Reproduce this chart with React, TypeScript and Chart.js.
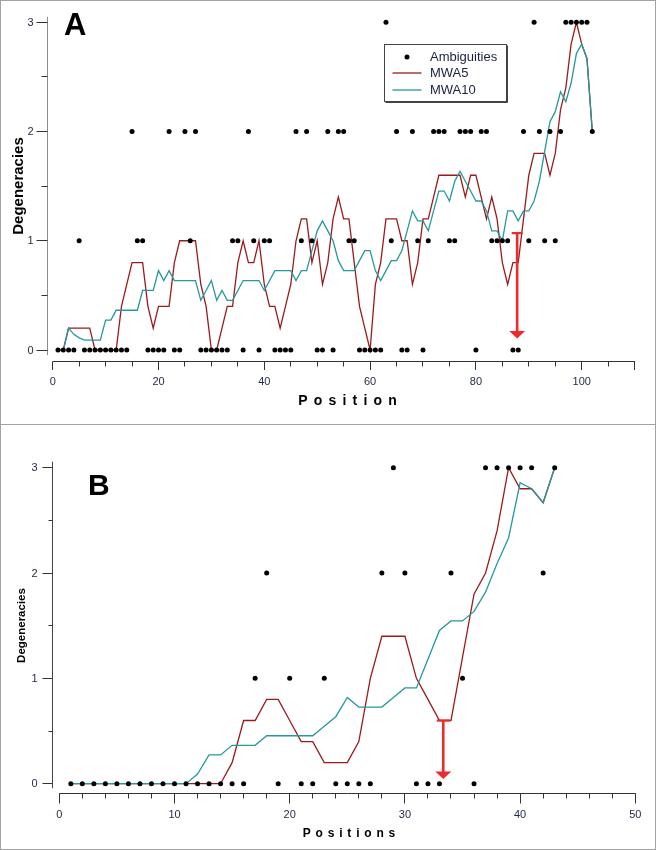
import React, { useEffect, useRef } from "react";
import { Chart, registerables } from "chart.js";

Chart.register(...registerables);

// ---------- DATA ----------
const positionsA = Array.from({ length: 102 }, (_, i) => i + 1);
const ambiguitiesA = [
  0, 0, 0, 0, 1, 0, 0, 0, 0, 0,
  0, 0, 0, 0, 2, 1, 1, 0, 0, 0,
  0, 2, 0, 0, 2, 1, 2, 0, 0, 0,
  0, 0, 0, 1, 1, 0, 2, 1, 0, 1,
  1, 0, 0, 0, 0, 2, 1, 2, 1, 0,
  0, 2, 0, 2, 2, 1, 1, 0, 0, 0,
  0, 0, 3, 1, 2, 0, 0, 2, 1, 0,
  1, 2, 2, 2, 1, 1, 2, 2, 2, 0,
  2, 2, 1, 1, 1, 1, 0, 0, 2, 1,
  3, 2, 1, 2, 1, 2, 3, 3, 3, 3,
  3, 2,
];
const mwa5A = [
  0, 0, 0.2, 0.2, 0.2, 0.2, 0.2, 0, 0, 0,
  0, 0, 0.4, 0.6, 0.8, 0.8, 0.8, 0.4, 0.2, 0.4,
  0.4, 0.4, 0.8, 1, 1, 1, 1, 0.6, 0.4, 0,
  0, 0.2, 0.4, 0.4, 0.8, 1, 0.8, 0.8, 1, 0.6,
  0.4, 0.4, 0.2, 0.4, 0.6, 1, 1.2, 1.2, 0.8, 1,
  0.6, 0.8, 1.2, 1.4, 1.2, 1.2, 0.8, 0.4, 0.2, 0,
  0.6, 0.8, 1.2, 1.2, 1.2, 1, 1, 0.6, 0.8, 1.2,
  1.2, 1.4, 1.6, 1.6, 1.6, 1.6, 1.6, 1.4, 1.6, 1.6,
  1.4, 1.2, 1.4, 1.2, 0.8, 0.6, 0.8, 0.8, 1.2, 1.6,
  1.8, 1.8, 1.8, 1.6, 1.8, 2.2, 2.4, 2.8, 3, 2.8,
  2.667, 2,
];
const mwa10A = [
  0, 0, 0.2, 0.143, 0.111, 0.091, 0.091, 0.091, 0.091, 0.273,
  0.273, 0.364, 0.364, 0.364, 0.364, 0.364, 0.545, 0.545, 0.545, 0.727,
  0.636, 0.727, 0.636, 0.636, 0.636, 0.636, 0.636, 0.455, 0.545, 0.636,
  0.455, 0.545, 0.455, 0.455, 0.545, 0.636, 0.636, 0.636, 0.636, 0.545,
  0.636, 0.727, 0.727, 0.727, 0.727, 0.636, 0.727, 0.727, 0.909, 1.091,
  1.182, 1.091, 1.0, 0.818, 0.727, 0.727, 0.727, 0.818, 0.909, 0.909,
  0.727, 0.636, 0.727, 0.818, 0.818, 0.909, 1.091, 1.273, 1.182, 1.182,
  1.091, 1.273, 1.455, 1.455, 1.364, 1.545, 1.636, 1.545, 1.455, 1.364,
  1.364, 1.273, 1.091, 1.091, 1.0, 1.273, 1.273, 1.182, 1.273, 1.273,
  1.364, 1.545, 1.818, 2.091, 2.182, 2.364, 2.273, 2.444, 2.714, 2.8,
  2.667, 2,
];

const positionsB = Array.from({ length: 43 }, (_, i) => i + 1);
const ambiguitiesB = [
  0, 0, 0, 0, 0, 0, 0, 0, 0, 0,
  0, 0, 0, 0, 0, 0, 1, 2, 0, 1,
  0, 0, 1, 0, 0, 0, 0, 2, 3, 2,
  0, 0, 0, 2, 1, 0, 3, 3, 3, 3,
  3, 2, 3,
];
const mwa5B = [
  0, 0, 0, 0, 0, 0, 0, 0, 0, 0,
  0, 0, 0, 0, 0.2, 0.6, 0.6, 0.8, 0.8, 0.6,
  0.4, 0.4, 0.2, 0.2, 0.2, 0.4, 1, 1.4, 1.4, 1.4,
  1, 0.8, 0.6, 0.6, 1.2, 1.8, 2, 2.4, 3, 2.8,
  2.8, 2.667, 3,
];
const mwa10B = [
  0, 0, 0, 0, 0, 0, 0, 0, 0, 0,
  0, 0.091, 0.273, 0.273, 0.364, 0.364, 0.364, 0.455, 0.455, 0.455,
  0.455, 0.455, 0.545, 0.636, 0.818, 0.727, 0.727, 0.727, 0.818, 0.909,
  0.909, 1.182, 1.455, 1.545, 1.545, 1.636, 1.818, 2.091, 2.333, 2.857,
  2.8, 2.667, 3,
];

const yTickLabels = [0, 1, 2, 3];
const xTickLabelsA = [0, 20, 40, 60, 80, 100];
const xTickLabelsB = [0, 10, 20, 30, 40, 50];
const arrowA = { x: 87.8, from: 1.07, to: 0.105 };
const arrowB = { x: 33.33, from: 0.6, to: 0.045 };
const legendLabels = ["Ambiguities", "MWA5", "MWA10"];

// ---------- STYLE ----------
const RED = "#9b1b1d";
const TEAL = "#25999b";
const ARROW = "#ee2a2c";
const FRAME = "#a3a3a3";
const TICK_TEXT = "#1f2742";
const FONT = "'Liberation Sans', Arial, Helvetica, sans-serif";

type PanelCfg = {
  width: number;
  height: number;
  padding: { left: number; right: number; top: number; bottom: number };
  xMax: number;
  xMinorStep: number;
  xTicks: number[];
  positions: number[];
  amb: number[];
  mwa5: number[];
  mwa10: number[];
  arrow: { x: number; from: number; to: number };
  yAxisOffset: number;
  xAxisOffset: number;
  yAxisTopExtra: number;
  yAxisBottomExtra: number;
  yMajorLen: number;
  yMinorLen: number;
  xMajorLen: number;
  xMinorLen: number;
  yAxisColor: string;
  xAxisColor: string;
  yLabelRight: number;
  xLabelY: number;
  tickFont: number;
  yTitle: { x: number; y: number; size: number };
  xTitle: { text: string; cx: number; baseline: number; size: number; gap: number };
  letter: { text: string; x: number; baseline: number; size: number };
  legend: boolean;
  frameBottom: number;
  capHalf: number;
  headHalf: number;
  headLen: number;
};

function spacedText(ctx: CanvasRenderingContext2D, text: string, cx: number, baseline: number, gap: number) {
  const chars = Array.from(text);
  const widths = chars.map((c) => ctx.measureText(c).width);
  const total = widths.reduce((a, b) => a + b, 0) + gap * (chars.length - 1);
  let x = cx - total / 2;
  ctx.textAlign = "left";
  chars.forEach((c, i) => {
    ctx.fillText(c, x, baseline);
    x += widths[i] + gap;
  });
}

function crisp(v: number) {
  return Math.round(v - 0.5) + 0.5;
}

function makePlugin(cfg: PanelCfg) {
  return {
    id: "igorAxes",
    afterDraw(chart: any) {
      const ctx: CanvasRenderingContext2D = chart.ctx;
      const xs = chart.scales.x;
      const ys = chart.scales.y;
      const area = chart.chartArea;
      ctx.save();

      // frame
      ctx.fillStyle = FRAME;
      ctx.fillRect(0, 0, cfg.width - 1, 1);
      ctx.fillRect(0, 0, 1, cfg.frameBottom + 1);
      ctx.fillRect(cfg.width - 2, 0, 1, cfg.frameBottom + 1);
      ctx.fillRect(0, cfg.frameBottom, cfg.width - 1, 1);

      // y axis
      const yAxisX = crisp(xs.getPixelForValue(0) - cfg.yAxisOffset);
      ctx.lineWidth = 1;
      ctx.strokeStyle = cfg.yAxisColor;
      ctx.beginPath();
      ctx.moveTo(yAxisX, area.top - cfg.yAxisTopExtra);
      ctx.lineTo(yAxisX, area.bottom + cfg.yAxisBottomExtra);
      ctx.stroke();
      ctx.strokeStyle = "#333";
      for (let v = 0; v <= 3.0001; v += 0.5) {
        const py = crisp(ys.getPixelForValue(v));
        const major = Math.abs(v - Math.round(v)) < 1e-6;
        const len = major ? cfg.yMajorLen : cfg.yMinorLen;
        ctx.beginPath();
        ctx.moveTo(yAxisX - len, py);
        ctx.lineTo(yAxisX, py);
        ctx.stroke();
      }
      ctx.fillStyle = TICK_TEXT;
      ctx.font = `${cfg.tickFont}px ${FONT}`;
      ctx.textAlign = "right";
      ctx.textBaseline = "middle";
      yTickLabels.forEach((v) => {
        ctx.fillText(String(v), cfg.yLabelRight, ys.getPixelForValue(v) + 0.5);
      });

      // x axis
      const xAxisY = crisp(ys.getPixelForValue(0) + cfg.xAxisOffset);
      ctx.strokeStyle = cfg.xAxisColor;
      ctx.beginPath();
      ctx.moveTo(xs.getPixelForValue(0), xAxisY);
      ctx.lineTo(xs.getPixelForValue(cfg.xMax) + 0.5, xAxisY);
      ctx.stroke();
      ctx.strokeStyle = "#333";
      for (let v = 0; v <= cfg.xMax + 1e-6; v += cfg.xMinorStep) {
        const px = crisp(xs.getPixelForValue(v));
        const major = cfg.xTicks.includes(v) || v === cfg.xMax;
        const len = major ? cfg.xMajorLen : cfg.xMinorLen;
        ctx.beginPath();
        ctx.moveTo(px, xAxisY);
        ctx.lineTo(px, xAxisY + len);
        ctx.stroke();
      }
      ctx.textAlign = "center";
      cfg.xTicks.forEach((v) => {
        ctx.fillText(String(v), xs.getPixelForValue(v), cfg.xLabelY);
      });

      // axis titles
      ctx.fillStyle = "#000";
      ctx.textBaseline = "alphabetic";
      ctx.save();
      ctx.translate(cfg.yTitle.x, cfg.yTitle.y);
      ctx.rotate(-Math.PI / 2);
      ctx.font = `bold ${cfg.yTitle.size}px ${FONT}`;
      ctx.textAlign = "center";
      ctx.fillText("Degeneracies", 0, 0);
      ctx.restore();

      ctx.font = `bold ${cfg.xTitle.size}px ${FONT}`;
      spacedText(ctx, cfg.xTitle.text, cfg.xTitle.cx, cfg.xTitle.baseline, cfg.xTitle.gap);

      // panel letter
      ctx.font = `bold ${cfg.letter.size}px ${FONT}`;
      ctx.textAlign = "left";
      ctx.fillText(cfg.letter.text, cfg.letter.x, cfg.letter.baseline);

      // legend
      if (cfg.legend) {
        const lx = 384.5, ly = 44.5, lw = 122, lh = 57;
        ctx.fillStyle = "#fff";
        ctx.fillRect(lx, ly, lw, lh);
        ctx.strokeStyle = "#444";
        ctx.lineWidth = 1;
        ctx.strokeRect(lx, ly, lw, lh);
        ctx.beginPath();
        ctx.moveTo(lx + lw + 1, ly + 1);
        ctx.lineTo(lx + lw + 1, ly + lh + 1);
        ctx.lineTo(lx + 1, ly + lh + 1);
        ctx.stroke();
        // entries
        ctx.fillStyle = "#000";
        ctx.beginPath();
        ctx.arc(407, 57, 2.5, 0, Math.PI * 2);
        ctx.fill();
        ctx.lineWidth = 1.3;
        ctx.strokeStyle = RED;
        ctx.beginPath();
        ctx.moveTo(392.5, 73);
        ctx.lineTo(421.5, 73);
        ctx.stroke();
        ctx.strokeStyle = TEAL;
        ctx.beginPath();
        ctx.moveTo(392.5, 90);
        ctx.lineTo(421.5, 90);
        ctx.stroke();
        ctx.fillStyle = "#1a2140";
        ctx.font = `13px ${FONT}`;
        ctx.textAlign = "left";
        ctx.textBaseline = "middle";
        ctx.fillText(legendLabels[0], 430, 57);
        ctx.fillText(legendLabels[1], 430, 73);
        ctx.fillText(legendLabels[2], 430, 90);
      }

      // arrow
      const ax = xs.getPixelForValue(cfg.arrow.x);
      const aTop = ys.getPixelForValue(cfg.arrow.from);
      const aTip = ys.getPixelForValue(cfg.arrow.to);
      ctx.strokeStyle = ARROW;
      ctx.fillStyle = ARROW;
      ctx.lineWidth = 2.6;
      ctx.beginPath();
      ctx.moveTo(ax, aTop);
      ctx.lineTo(ax, aTip - cfg.headLen + 1);
      ctx.stroke();
      ctx.lineWidth = 2.2;
      ctx.beginPath();
      ctx.moveTo(ax - cfg.capHalf, aTop);
      ctx.lineTo(ax + cfg.capHalf, aTop);
      ctx.stroke();
      ctx.beginPath();
      ctx.moveTo(ax - cfg.headHalf, aTip - cfg.headLen);
      ctx.lineTo(ax + cfg.headHalf, aTip - cfg.headLen);
      ctx.lineTo(ax, aTip);
      ctx.closePath();
      ctx.fill();

      ctx.restore();
    },
  };
}

function buildChart(canvas: HTMLCanvasElement, cfg: PanelCfg) {
  const pts = (vals: number[]) => vals.map((v, i) => ({ x: cfg.positions[i], y: v }));
  return new Chart(canvas, {
    type: "scatter",
    data: {
      datasets: [
        {
          label: legendLabels[0],
          data: pts(cfg.amb),
          showLine: false,
          pointRadius: 2.5,
          pointBackgroundColor: "#000",
          pointBorderWidth: 0,
          clip: false,
          order: 0,
        } as any,
        {
          label: legendLabels[2],
          data: pts(cfg.mwa10),
          showLine: true,
          borderColor: TEAL,
          borderWidth: 1.3,
          pointRadius: 0,
          fill: false,
          tension: 0,
          clip: false,
          order: 1,
        },
        {
          label: legendLabels[1],
          data: pts(cfg.mwa5),
          showLine: true,
          borderColor: RED,
          borderWidth: 1.3,
          pointRadius: 0,
          fill: false,
          tension: 0,
          clip: false,
          order: 2,
        },
      ],
    },
    options: {
      responsive: false,
      animation: false,
      devicePixelRatio: 1,
      events: [],
      layout: { padding: cfg.padding },
      plugins: { legend: { display: false }, tooltip: { enabled: false } },
      scales: {
        x: { type: "linear", min: 0, max: cfg.xMax, display: false },
        y: { type: "linear", min: 0, max: 3, display: false },
      },
    },
    plugins: [makePlugin(cfg)],
  } as any);
}

const cfgA: PanelCfg = {
  width: 657,
  height: 425,
  padding: { left: 52.7, right: 22.4, top: 22.3, bottom: 75 },
  xMax: 110,
  xMinorStep: 5,
  xTicks: xTickLabelsA,
  positions: positionsA,
  amb: ambiguitiesA,
  mwa5: mwa5A,
  mwa10: mwa10A,
  arrow: arrowA,
  yAxisOffset: 5,
  xAxisOffset: 11.7,
  yAxisTopExtra: 5.5,
  yAxisBottomExtra: 5,
  yMajorLen: 11,
  yMinorLen: 6,
  xMajorLen: 8.5,
  xMinorLen: 5,
  yAxisColor: "#8c8c8c",
  xAxisColor: "#333",
  yLabelRight: 33.5,
  xLabelY: 381.5,
  tickFont: 11,
  yTitle: { x: 22.5, y: 186, size: 15 },
  xTitle: { text: "Position", cx: 347.5, baseline: 405, size: 14, gap: 6.2 },
  letter: { text: "A", x: 64, baseline: 35, size: 31 },
  legend: true,
  frameBottom: 424,
  capHalf: 5.5,
  headHalf: 8,
  headLen: 7.5,
};

const cfgB: PanelCfg = {
  width: 657,
  height: 426,
  padding: { left: 59.3, right: 21.7, top: 43.7, bottom: 66.3 },
  xMax: 50,
  xMinorStep: 2,
  xTicks: xTickLabelsB,
  positions: positionsB,
  amb: ambiguitiesB,
  mwa5: mwa5B,
  mwa10: mwa10B,
  arrow: arrowB,
  yAxisOffset: 6.7,
  xAxisOffset: 9.6,
  yAxisTopExtra: 6,
  yAxisBottomExtra: 4.6,
  yMajorLen: 10,
  yMinorLen: 4,
  xMajorLen: 10,
  xMinorLen: 5,
  yAxisColor: "#444",
  xAxisColor: "#333",
  yLabelRight: 37.5,
  xLabelY: 391,
  tickFont: 11,
  yTitle: { x: 24.5, y: 201.5, size: 11.5 },
  xTitle: { text: "Positions", cx: 349, baseline: 412.7, size: 12, gap: 4.8 },
  letter: { text: "B", x: 88, baseline: 71, size: 30 },
  legend: false,
  frameBottom: 425,
  capHalf: 6.5,
  headHalf: 8,
  headLen: 7.5,
};

export default function App() {
  const refA = useRef<HTMLCanvasElement>(null);
  const refB = useRef<HTMLCanvasElement>(null);

  useEffect(() => {
    const a = buildChart(refA.current!, cfgA);
    const b = buildChart(refB.current!, cfgB);
    return () => {
      a.destroy();
      b.destroy();
    };
  }, []);

  return (
    <div style={{ position: "absolute", left: 0, top: 0, width: 657, height: 850, background: "#fff" }}>
      <canvas
        ref={refA}
        width={657}
        height={425}
        style={{ position: "absolute", left: 0, top: 0, width: 657, height: 425, display: "block" }}
      />
      <canvas
        ref={refB}
        width={657}
        height={426}
        style={{ position: "absolute", left: 0, top: 424, width: 657, height: 426, display: "block" }}
      />
    </div>
  );
}
